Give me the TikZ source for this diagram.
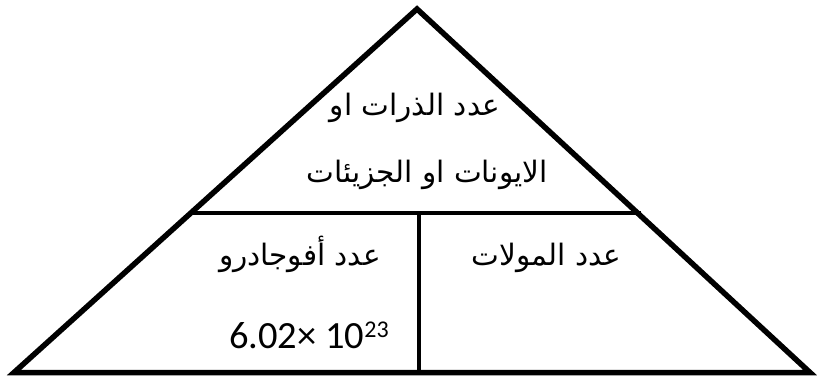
\documentclass[tikz,border=0pt]{standalone}
\usepackage{fontspec}
\setmainfont{Carlito}
\newfontfamily\arabicfont[Script=Arabic]{DejaVu Sans}
\TeXXeTstate=1
\usetikzlibrary{calc}
\begin{document}
\begin{tikzpicture}[x=1pt,y=-1pt,
  frame/.style={line width=5.5pt, line join=miter},
  divider/.style={line width=4pt},
  arab/.style={inner sep=0pt, anchor=base, font=\arabicfont\fontsize{29.5}{34}\selectfont},
  num/.style={inner sep=0pt, anchor=base west, font=\fontsize{38.5}{42}\selectfont}]
\useasboundingbox (0,0) rectangle (817,378);
\coordinate (A) at (417,9);
\coordinate (L) at (14,372.5);
\coordinate (R) at (810,372.5);
\draw[frame] (A) -- (L) -- (R) -- cycle;
\coordinate (ML) at ($(L)!0.4375!(A)$);
\coordinate (MR) at ($(R)!0.4375!(A)$);
\draw[divider, shorten <=-1pt, shorten >=-3pt] (ML) -- (MR);
\coordinate (VT) at (419,213);
\coordinate (VB) at (419,372);
\draw[divider, line width=4.5pt] (VT) -- (VB);
\node[arab] (t1) at (415,115) {\beginR عدد الذرات او\endR};
\node[arab] (t2) at (427,182) {\beginR الايونات او الجزيئات\endR};
\node[arab] (t3) at (300,265) {\beginR عدد أفوجادرو\endR};
\node[arab] (t4) at (546.5,265) {\beginR عدد المولات\endR};
\node[num] (t5) at (229,348) {6.02× 10\raisebox{10.5pt}{\fontsize{24}{26}\selectfont 23}};
\end{tikzpicture}
\end{document}
